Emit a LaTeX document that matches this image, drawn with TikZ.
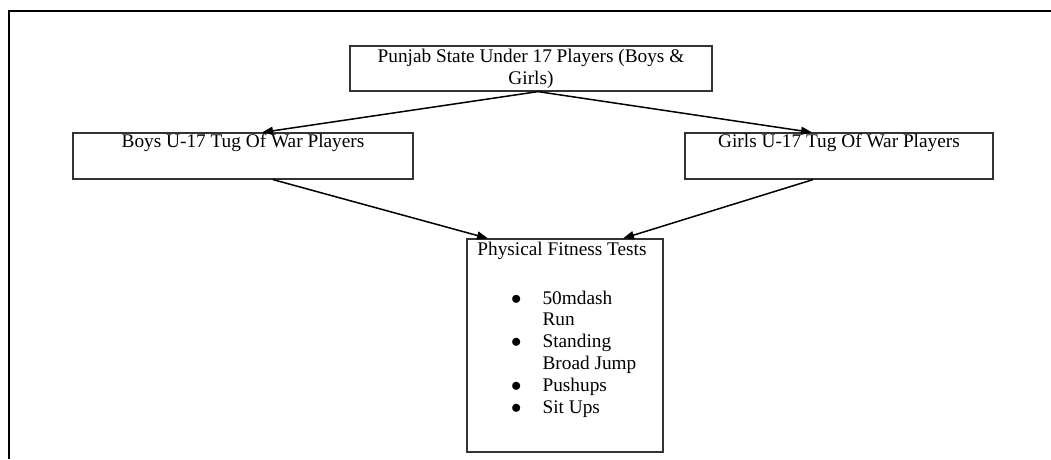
\documentclass[tikz,border=0pt]{standalone}
\usepackage{fontspec}
\setmainfont{Liberation Serif}
\usepackage{tikz}
\usetikzlibrary{calc}
\usetikzlibrary{arrows.meta}
\tikzset{
  flowbox/.style={draw=black!80, line width=1.2pt, inner sep=0pt, align=center},
  flowarrow/.style={draw, line width=1.5pt, -{Triangle[length=11pt,width=8pt]}}
}
\newcommand{\flowtext}{\fontsize{19.3}{21.8}\selectfont}
\newcommand{\flowarrow}[2]{\draw[flowarrow] #1 -- #2;}
\newcommand{\flowbullet}{$\bullet$}

\begin{document}
\begin{tikzpicture}[x=1pt, y=-1pt, font=\flowtext]
            \useasboundingbox (0,0) rectangle (1051,459);
            % frame
            \draw[line width=2pt] (9,459) -- (9,11) -- (1051,11);
            % row 1
            \node[flowbox, minimum width=362pt, minimum height=45pt] (players) at (531,68.5)
              {Punjab State Under 17 Players (Boys \&\\ Girls)};
            % row 2
            \node[flowbox, minimum width=340pt, text height=14pt, text depth=32pt] (boys) at (243,156)
              {Boys U-17 Tug Of War Players};
            \node[flowbox, minimum width=308pt, text height=14pt, text depth=32pt] (girls) at (839,156)
              {Girls U-17 Tug Of War Players};
            % row 3
            \node[flowbox, minimum width=196pt, minimum height=213pt] (tests) at (565,345.5) {};
            \node[anchor=base] (teststitle) at (562,255) {Physical Fitness Tests};
            \node[anchor=base west, inner sep=0pt] (testslist) at (511,304)
              {\begin{tabular}[t]{@{}l@{\hspace{21pt}}l@{}}
                 \flowbullet & 50mdash\\
                             & Run\\
                 \flowbullet & Standing\\
                             & Broad Jump\\
                 \flowbullet & Pushups\\
                 \flowbullet & Sit Ups
               \end{tabular}};
            % arrows
            \flowarrow{([xshift=7pt]players.south)}{([xshift=19pt]boys.north)}
            \flowarrow{([xshift=7pt]players.south)}{([xshift=-27pt]girls.north)}
            \flowarrow{([xshift=30pt]boys.south)}{([xshift=-77pt]tests.north)}
            \flowarrow{([xshift=-26pt]girls.south)}{([xshift=58pt]tests.north)}
        \end{tikzpicture}
\end{document}
